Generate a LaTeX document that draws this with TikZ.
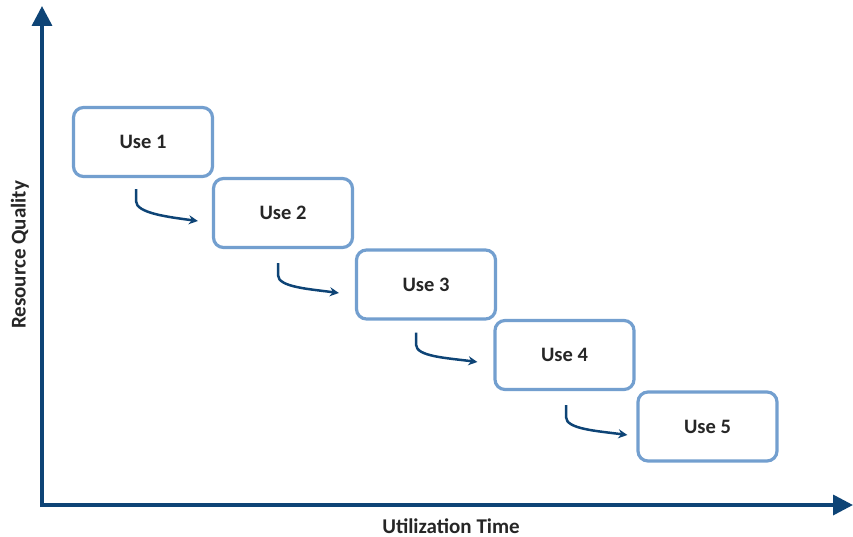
\documentclass[tikz,border=0pt]{standalone}
\usepackage{fontspec}
\setmainfont{Carlito}
\usetikzlibrary{arrows.meta}
\definecolor{axisblue}{HTML}{0E4476}
\definecolor{boxblue}{HTML}{739FCF}
\tikzset{
  usebox/.style={draw=boxblue, line width=3.2pt, rounded corners=10pt, fill=white,
    minimum width=139pt, minimum height=69pt, inner sep=0pt, font=\bfseries\fontsize{20.5}{24}\selectfont, text=black!85},
  axisline/.style={draw=axisblue, line width=3.5pt, -{Triangle[width=20pt,length=20pt]}},
  flow/.style={draw=axisblue, line width=2.5pt, -{Stealth[width=9pt,length=9pt]}},
  axislabel/.style={font=\bfseries\fontsize{21}{24}\selectfont, text=black!85}
}
\begin{document}
\begin{tikzpicture}[x=1pt,y=-1pt]
\useasboundingbox (0,0) rectangle (853,537);
\coordinate (O) at (42,505);
\coordinate (Ytop) at (42,6);
\coordinate (Xend) at (853,505);
\draw[axisline] ([yshift=-2pt]O) -- (Ytop);
\draw[axisline] ([xshift=-2pt]O) -- (Xend);
\node[axislabel] (ylab) at (20,255) [rotate=90] {Resource Quality};
\node[axislabel] (xlab) at (451,526) {Utilization Time};
\node[usebox] (u1) at (143,142) {Use 1};
\node[usebox] (u2) at (283,213) {Use 2};
\node[usebox] (u3) at (426,284.5) {Use 3};
\node[usebox] (u4) at (564.5,355) {Use 4};
\node[usebox] (u5) at (707.5,426.5) {Use 5};
\coordinate (a1s) at ([xshift=-7pt,yshift=-11pt]u1.south);
\coordinate (a1e) at ([xshift=-14pt,yshift=-8pt]u2.west);
\draw[flow] (a1s) -- ++(0,12) .. controls +(0,12) and +(-30,-4) .. (a1e);
\coordinate (a2s) at ([xshift=-5pt,yshift=-14pt]u2.south);
\coordinate (a2e) at ([xshift=-16pt,yshift=-8.5pt]u3.west);
\draw[flow] (a2s) -- ++(0,12) .. controls +(0,12) and +(-30,-4) .. (a2e);
\coordinate (a3s) at ([xshift=-10pt,yshift=-12pt]u3.south);
\coordinate (a3e) at ([xshift=-16pt,yshift=-7pt]u4.west);
\draw[flow] (a3s) -- ++(0,12) .. controls +(0,12) and +(-30,-4) .. (a3e);
\coordinate (a4s) at ([xshift=1.5pt,yshift=-14pt]u4.south);
\coordinate (a4e) at ([xshift=-9pt,yshift=-8.5pt]u5.west);
\draw[flow] (a4s) -- ++(0,12) .. controls +(0,12) and +(-30,-4) .. (a4e);
\end{tikzpicture}
\end{document}
